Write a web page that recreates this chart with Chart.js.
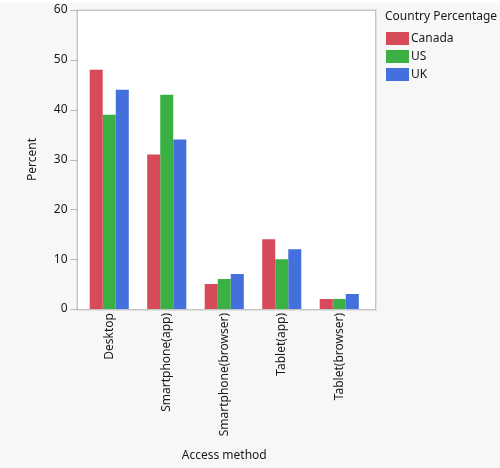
<!DOCTYPE html>
<html>
<head>
<meta charset="utf-8">
<script src="https://cdn.jsdelivr.net/npm/chart.js@4"></script>
<style>
    html, body { margin: 0; padding: 0; background: #ffffff; }
    canvas { display: block; }
</style>
</head>
<body>
<canvas id="chart" width="500" height="468"></canvas>
<script>
// Data
const categories = ['Desktop', 'Smartphone(app)', 'Smartphone(browser)', 'Tablet(app)', 'Tablet(browser)'];
const canadaValues = [48, 31, 5, 14, 2];
const usValues = [39, 43, 6, 10, 2];
const ukValues = [44, 34, 7, 12, 3];
const seriesNames = ['Canada', 'US', 'UK'];
const seriesColors = ['#d64a5a', '#3bb045', '#4470de'];
const legendTitle = 'Country Percentage';

Chart.defaults.font.family = "'Noto Sans', 'Open Sans', sans-serif";
Chart.defaults.font.size = 12;
Chart.defaults.color = '#1a1a1a';

// Background, plot frame and y tick marks
const framePlugin = {
    id: 'frame',
    beforeDraw(chart) {
        const ctx = chart.ctx;
        const area = chart.chartArea;
        ctx.save();
        ctx.fillStyle = '#ffffff';
        ctx.fillRect(0, 0, chart.width, chart.height);
        ctx.fillStyle = '#f7f7f7';
        ctx.fillRect(0, 3, chart.width, chart.height - 3);
        ctx.fillStyle = '#ffffff';
        ctx.fillRect(area.left - 3.5, area.top, area.right - area.left + 10.5, area.bottom - area.top);
        ctx.restore();
    },
    afterDatasetsDraw(chart) {
        const ctx = chart.ctx;
        const area = chart.chartArea;
        const left = Math.round(area.left - 3.5) + 0.5;
        const right = Math.round(area.right + 7) + 0.5;
        const top = Math.round(area.top) + 0.5;
        const bottom = Math.round(area.bottom) + 0.5;
        ctx.save();
        ctx.strokeStyle = '#c4c4c4';
        ctx.lineWidth = 1;
        ctx.strokeRect(left, top, right - left, bottom - top);
        ctx.strokeStyle = '#e2e2e2';
        ctx.strokeRect(left - 1, top - 1, right - left + 2, bottom - top + 2);
        // y tick marks
        const yScale = chart.scales.y;
        ctx.strokeStyle = '#b8b8b8';
        yScale.ticks.forEach(t => {
            const y = Math.round(yScale.getPixelForValue(t.value)) + 0.5;
            ctx.beginPath();
            ctx.moveTo(left - 7, y);
            ctx.lineTo(left, y);
            ctx.stroke();
        });
        ctx.restore();
    }
};

// Legend on the right
const legendPlugin = {
    id: 'sideLegend',
    afterDraw(chart) {
        const ctx = chart.ctx;
        const x = chart.chartArea.right + 17;
        ctx.save();
        ctx.font = "12px 'Noto Sans', 'Open Sans', sans-serif";
        ctx.fillStyle = '#1a1a1a';
        ctx.textBaseline = 'middle';
        ctx.textAlign = 'left';
        ctx.fillText(legendTitle, x, 17);
        chart.data.datasets.forEach((ds, i) => {
            const y = 32 + i * 18;
            ctx.fillStyle = ds.backgroundColor;
            ctx.fillRect(x + 1, y, 23, 13);
            ctx.fillStyle = '#1a1a1a';
            ctx.fillText(ds.label, x + 26, y + 7);
        });
        ctx.restore();
    }
};

const valueLists = [canadaValues, usValues, ukValues];

new Chart(document.getElementById('chart').getContext('2d'), {
    type: 'bar',
    data: {
        labels: categories,
        datasets: seriesNames.map((name, i) => ({
            label: name,
            data: valueLists[i],
            backgroundColor: seriesColors[i],
            borderWidth: 0,
            categoryPercentage: 0.68,
            barPercentage: 1.0
        }))
    },
    options: {
        responsive: false,
        animation: false,
        layout: {
            padding: { top: 10, right: 132, left: 0, bottom: 0 }
        },
        plugins: {
            legend: { display: false },
            tooltip: { enabled: false }
        },
        scales: {
            x: {
                grid: { display: false, drawTicks: false },
                border: { display: false },
                ticks: {
                    autoSkip: false,
                    minRotation: 90,
                    maxRotation: 90,
                    padding: 4,
                    color: '#1a1a1a'
                },
                title: {
                    display: true,
                    text: 'Access method',
                    color: '#1a1a1a',
                    padding: { top: 0, bottom: 5 }
                },
                afterFit(scale) {
                    scale.height = 159;
                }
            },
            y: {
                min: 0,
                max: 60,
                // tick marks are drawn by the frame plugin; tickLength only spaces the labels
                grid: { display: false, drawTicks: true, tickLength: 13 },
                border: { display: false },
                ticks: {
                    stepSize: 10,
                    padding: 0,
                    color: '#1a1a1a'
                },
                title: {
                    display: true,
                    text: 'Percent',
                    color: '#1a1a1a',
                    padding: { top: 25, bottom: 0 }
                },
                afterFit(scale) {
                    scale.width = 80.5;
                }
            }
        }
    },
    plugins: [framePlugin, legendPlugin]
});
</script>
</body>
</html>
